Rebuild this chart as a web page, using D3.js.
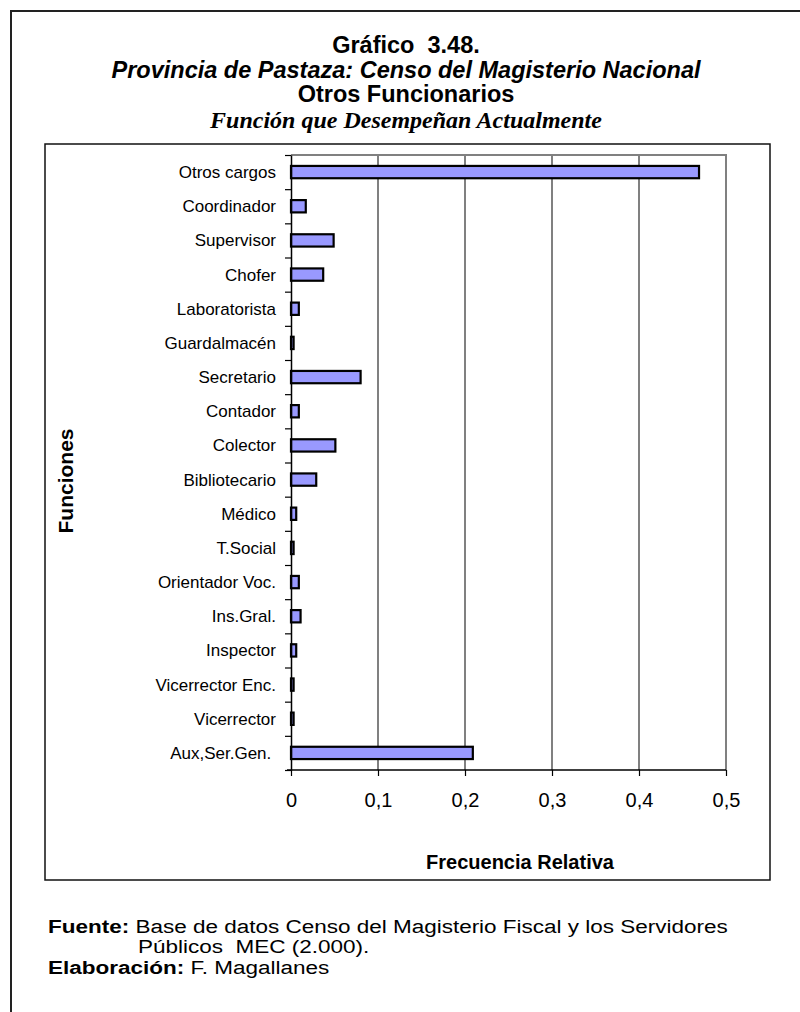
<!DOCTYPE html>
<html><head><meta charset="utf-8">
<script src="https://cdn.jsdelivr.net/npm/d3@7"></script>
<style>
body{margin:0;background:#fff}
svg{display:block}
text{font-family:"Liberation Sans",Arial,sans-serif;fill:#000}
</style>
</head><body>
<svg id="c" width="800" height="1012"></svg>
<script>
// ---- data ----
const categories = ["Otros cargos","Coordinador","Supervisor","Chofer","Laboratorista","Guardalmacén","Secretario","Contador","Colector","Bibliotecario","Médico","T.Social","Orientador Voc.","Ins.Gral.","Inspector","Vicerrector Enc.","Vicerrector","Aux,Ser.Gen. "];
const values = [0.469,0.017,0.049,0.037,0.009,0.003,0.080,0.009,0.051,0.029,0.006,0.003,0.009,0.011,0.006,0.003,0.003,0.209];
const xTicks = [0,0.1,0.2,0.3,0.4,0.5];
const xTickLabels = ["0","0,1","0,2","0,3","0,4","0,5"];
const titleLines = ["Gráfico  3.48.","Provincia de Pastaza: Censo del Magisterio Nacional","Otros Funcionarios","Función que Desempeñan Actualmente"];
const xTitle = "Frecuencia Relativa";
const yTitle = "Funciones";

const svg = d3.select("#c");

// outer frame
svg.append("path").attr("d","M11,1012 L11,11 L800,11").attr("fill","none").attr("stroke","#222").attr("stroke-width",2);

// titles
const tcx = 406;
const sans = '"Liberation Sans",Arial,sans-serif';
const serif = '"Liberation Serif","Times New Roman",serif';
const tStyles = [
  {y:53, size:23.5, weight:"bold", style:"normal", fam:sans},
  {y:78, size:23.5, weight:"bold", style:"italic", fam:sans},
  {y:102, size:23.5, weight:"bold", style:"normal", fam:sans},
  {y:128, size:24, weight:"bold", style:"italic", fam:serif}
];
titleLines.forEach((t,i)=>{
  const s = tStyles[i];
  svg.append("text").attr("x",tcx).attr("y",s.y)
    .attr("text-anchor","middle").style("font-size",s.size+"px").style("font-weight",s.weight)
    .style("font-style",s.style).style("font-family",s.fam).style("white-space","pre").text(t);
});

// inner chart box
svg.append("rect").attr("x",45).attr("y",144).attr("width",725).attr("height",736)
  .attr("fill","none").attr("stroke","#111").attr("stroke-width",1.5);

// scales
const plot = {l:291, r:726, t:155, b:770};
const x = d3.scaleLinear().domain([0,0.5]).range([plot.l, plot.r]);
const y = d3.scaleBand().domain(categories).range([plot.t, plot.b]).padding(0);
const yIdx = d3.scaleLinear().domain([0,categories.length]).range([plot.t, plot.b]);

// gridlines (gray)
svg.append("g").selectAll("line").data(xTicks.filter(d=>d>0)).join("line")
  .attr("x1",d=>x(d)).attr("x2",d=>x(d)).attr("y1",plot.t).attr("y2",plot.b)
  .attr("stroke","#808080").attr("stroke-width",2);
svg.append("line").attr("x1",plot.l).attr("x2",plot.r+1).attr("y1",plot.t).attr("y2",plot.t)
  .attr("stroke","#808080").attr("stroke-width",2);

// bars
const bw = y.bandwidth();
svg.append("g").selectAll("rect").data(categories).join("rect")
  .attr("x",x(0))
  .attr("y",d=>y(d)+bw*0.32)
  .attr("width",(d,i)=>x(values[i])-x(0))
  .attr("height",bw*0.36)
  .attr("fill","#9999FF").attr("stroke","#000").attr("stroke-width",2.2);

// y axis (ticks at band boundaries)
const yAxis = svg.append("g").attr("transform",`translate(${plot.l},0)`)
  .call(d3.axisLeft(yIdx).tickValues(d3.range(categories.length+1)).tickFormat("").tickSize(6).tickSizeOuter(0));
yAxis.select(".domain").attr("stroke","#000").attr("stroke-width",1.5);
yAxis.selectAll(".tick line").attr("stroke","#000").attr("stroke-width",1.2);

// category labels
svg.append("g").selectAll("text").data(categories).join("text")
  .attr("x",276).attr("y",d=>y(d)+bw/2).attr("dy","0.35em")
  .attr("text-anchor","end").style("font-size","17px").style("white-space","pre").text(d=>d);

// x axis
const xAxis = svg.append("g").attr("transform",`translate(0,${plot.b})`)
  .call(d3.axisBottom(x).tickValues(xTicks).tickFormat((d,i)=>xTickLabels[i]).tickSize(6).tickSizeOuter(0).tickPadding(17));
xAxis.select(".domain").attr("stroke","#000").attr("stroke-width",1.5).attr("d",`M${plot.l-4},0H${plot.r}`);
xAxis.selectAll(".tick line").attr("stroke","#000").attr("stroke-width",1.2);
xAxis.selectAll(".tick text").style("font-size","20px").style("font-family",sans).attr("fill","#000");

// axis titles
svg.append("text").attr("x",520).attr("y",869).attr("text-anchor","middle")
  .style("font-size","20px").style("font-weight","bold").text(xTitle);
svg.append("text").attr("transform","translate(73,481) rotate(-90)").attr("text-anchor","middle")
  .style("font-size","21px").style("font-weight","bold").text(yTitle);

// footer
const fsx = 1.25;
function footLine(yb, boldPart, rest, xStart){
  const g = svg.append("g").attr("transform",`translate(${xStart},${yb}) scale(${fsx},1)`);
  const t = g.append("text").style("font-size","18px").style("white-space","pre");
  if(boldPart) t.append("tspan").style("font-weight","bold").text(boldPart);
  t.append("tspan").text(rest);
}
footLine(933,"Fuente:"," Base de datos Censo del Magisterio Fiscal y los Servidores",48);
footLine(953,"","Públicos  MEC (2.000).",138);
footLine(974,"Elaboración:"," F. Magallanes",48);
</script>
</body></html>
